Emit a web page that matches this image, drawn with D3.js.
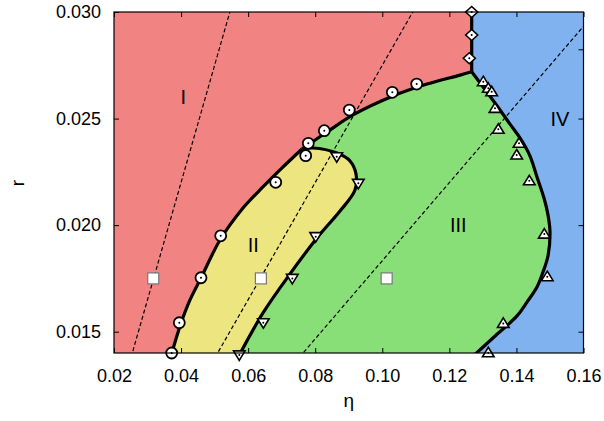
<!DOCTYPE html>
<html>
<head>
<meta charset="utf-8">
<script src="https://cdn.jsdelivr.net/npm/d3@7"></script>
<style>
  body { margin: 0; background: #fff; }
  svg { display: block; }
  text { font-family: "Liberation Sans", Arial, Helvetica, sans-serif; fill: #000; }
</style>
</head>
<body>
<svg id="chart" width="604" height="421"></svg>
<script>
// ---- axis ticks ----
const xTicks = [0.02, 0.04, 0.06, 0.08, 0.10, 0.12, 0.14, 0.16];
const yTicks = [0.015, 0.020, 0.025, 0.030];
const yTicksRight = [0.015, 0.020, 0.025, 0.02825];

// ---- phase boundaries (eta, r) ----
// I / II boundary, from the bottom edge up to the triple point
const boundaryI_II = [
  [0.0369, 0.0138], [0.0397, 0.01527], [0.04266, 0.01649], [0.04594, 0.01752],
  [0.05161, 0.01930], [0.05847, 0.02080], [0.06354, 0.02165], [0.0695, 0.02259],
  [0.07606, 0.02357]
];
// I / III boundary, from the triple point to the meeting with region IV
const boundaryI_III = [
  [0.07606, 0.02357], [0.08351, 0.02437], [0.09127, 0.02517], [0.10319, 0.02606],
  [0.11333, 0.02662], [0.12317, 0.02704], [0.12666, 0.02720]
];
// II / III boundary, from the triple point back down to the bottom edge
const boundaryII_III = [
  [0.07606, 0.02357], [0.07934, 0.02362], [0.0865, 0.02338], [0.09037, 0.02301],
  [0.09216, 0.02240], [0.09186, 0.02165], [0.08739, 0.02066], [0.08053, 0.01940],
  [0.07248, 0.01771], [0.06443, 0.01588], [0.0570, 0.0138]
];
// III / IV boundary
const boundaryIII_IV = [
  [0.12666, 0.02720], [0.13361, 0.02573], [0.13808, 0.02474], [0.14106, 0.02409],
  [0.14405, 0.02324], [0.14613, 0.02226], [0.14822, 0.02127], [0.14941, 0.02048],
  [0.15001, 0.01968], [0.14941, 0.01855], [0.14792, 0.01780], [0.14613, 0.01710],
  [0.14315, 0.01639], [0.14017, 0.01574], [0.13331, 0.01475], [0.1267, 0.0138]
];
// I / IV boundary (vertical)
const boundaryI_IV = [[0.12666, 0.02720], [0.12666, 0.0305]];

// ---- simulation points ----
const circlePts = [
  [0.0372, 0.0140], [0.03947, 0.01542], [0.04594, 0.01753], [0.05182, 0.01950],
  [0.06822, 0.02201], [0.07716, 0.02326], [0.07794, 0.02384], [0.08271, 0.02443],
  [0.09016, 0.02540], [0.10299, 0.02623], [0.11026, 0.02662]
];
const diamondPts = [[0.12666, 0.0300], [0.12666, 0.02892], [0.12595, 0.02783]];
const upTrianglePts = [
  [0.13012, 0.02673], [0.13161, 0.02642], [0.13262, 0.02626], [0.13361, 0.02548],
  [0.13459, 0.02450], [0.14077, 0.02384], [0.14008, 0.02329], [0.14384, 0.02208],
  [0.14831, 0.01958], [0.14920, 0.01758], [0.13608, 0.01539], [0.13161, 0.01401]
];
const downTrianglePts = [
  [0.08641, 0.02321], [0.09285, 0.02196], [0.08014, 0.01946], [0.07317, 0.01750],
  [0.06452, 0.01542], [0.05736, 0.01391]
];
const squarePts = [[0.0317, 0.0175], [0.0638, 0.0175], [0.1013, 0.0175]];

// ---- constant-ratio guide lines r = k * eta ----
const guideSlopes = [0.55, 0.275, 0.1833];

// ---- region names ----
const regionNames = ["I", "II", "III", "IV"];
const regionAnchors = [[0.04066, 0.02603], [0.06154, 0.01907], [0.12267, 0.02001], [0.1530, 0.02501]];

const regionColors = { I: "#F18383", II: "#EDE57F", III: "#89DF77", IV: "#7FB2EE" };

// ---------------------------------------------------------------
const svg = d3.select("#chart");
const plotL = 114, plotR = 583.5, plotT = 12, plotB = 353;
const x = d3.scaleLinear().domain([0.02, 0.16]).range([plotL, plotR]);
const y = d3.scaleLinear().domain([0.014, 0.030]).range([plotB, plotT]);
const smooth = d3.curveCatmullRom.alpha(0.5);

svg.append("defs").append("clipPath").attr("id", "plotClip")
  .append("rect").attr("x", plotL).attr("y", plotT)
  .attr("width", plotR - plotL).attr("height", plotB - plotT);

// joins several polylines/curves into one closed outline
function outline(parts) {
  const p = d3.path();
  let started = false;
  const ctx = {
    moveTo(a, b) { if (started) p.lineTo(a, b); else { p.moveTo(a, b); started = true; } },
    lineTo(a, b) { p.lineTo(a, b); },
    bezierCurveTo(a, b, c, d, e, f) { p.bezierCurveTo(a, b, c, d, e, f); },
    closePath() {}
  };
  for (const [pts, curved] of parts) {
    d3.line().x(d => x(d[0])).y(d => y(d[1]))
      .curve(curved ? smooth : d3.curveLinear).context(ctx)(pts);
  }
  p.closePath();
  return p.toString();
}
const rev = a => a.slice().reverse();

const plot = svg.append("g").attr("clip-path", "url(#plotClip)");

// region fills
plot.append("rect").attr("x", plotL).attr("y", plotT)
  .attr("width", plotR - plotL).attr("height", plotB - plotT)
  .attr("fill", regionColors.I);
plot.append("path").attr("fill", regionColors.IV)
  .attr("d", outline([[[[0.12666, 0.0305], [0.17, 0.0305], [0.17, 0.013]], false], [rev(boundaryIII_IV), true]]));
plot.append("path").attr("fill", regionColors.III)
  .attr("d", outline([[boundaryI_III, true], [boundaryIII_IV, true], [rev(boundaryII_III), true]]));
plot.append("path").attr("fill", regionColors.II)
  .attr("d", outline([[boundaryI_II, true], [boundaryII_III, true]]));

// guide lines
plot.selectAll("line.guide").data(guideSlopes).join("line")
  .attr("class", "guide")
  .attr("x1", k => x(0.0138 / k)).attr("y1", y(0.0138))
  .attr("x2", x(0.17)).attr("y2", k => y(0.17 * k))
  .attr("stroke", "#000").attr("stroke-width", 1.2)
  .attr("stroke-dasharray", "4,2.5");

// phase boundaries
const lineGen = d3.line().x(d => x(d[0])).y(d => y(d[1])).curve(smooth);
[boundaryI_II, boundaryI_III, boundaryII_III, boundaryIII_IV, boundaryI_IV].forEach(b => {
  plot.append("path").attr("d", lineGen(b))
    .attr("fill", "none").attr("stroke", "#000")
    .attr("stroke-width", 3.2).attr("stroke-linejoin", "round");
});

// region labels
svg.selectAll("text.region").data(regionNames).join("text")
  .attr("class", "region")
  .attr("x", (d, i) => x(regionAnchors[i][0]))
  .attr("y", (d, i) => y(regionAnchors[i][1]))
  .attr("text-anchor", "middle").attr("dy", "0.36em")
  .attr("font-size", 20).text(d => d);

// markers
const marks = svg.append("g");
function dotted(sel) {
  sel.append("circle").attr("r", 1).attr("fill", "#000");
}
marks.selectAll("g.sq").data(squarePts).join("g").attr("class", "sq")
  .attr("transform", d => `translate(${x(d[0])},${y(d[1])})`)
  .append("rect").attr("x", -5.5).attr("y", -5.5).attr("width", 11).attr("height", 11)
  .attr("fill", "#fff").attr("stroke", "#777").attr("stroke-width", 1.2);

const circ = marks.selectAll("g.ci").data(circlePts).join("g").attr("class", "ci")
  .attr("transform", d => `translate(${x(d[0])},${y(d[1])})`);
circ.append("circle").attr("r", 5.5).attr("fill", "#fff").attr("stroke", "#000").attr("stroke-width", 1.8);
dotted(circ);

const dia = marks.selectAll("g.di").data(diamondPts).join("g").attr("class", "di")
  .attr("transform", d => `translate(${x(d[0])},${y(d[1])})`);
dia.append("path").attr("d", "M0,-5.5L6,0L0,5.5L-6,0Z")
  .attr("fill", "#fff").attr("stroke", "#000").attr("stroke-width", 1.6);
dotted(dia);

const up = marks.selectAll("g.up").data(upTrianglePts).join("g").attr("class", "up")
  .attr("transform", d => `translate(${x(d[0])},${y(d[1])})`);
up.append("path").attr("d", "M0,-5.5L5.8,4L-5.8,4Z")
  .attr("fill", "#fff").attr("stroke", "#000").attr("stroke-width", 1.6);
dotted(up);

const dn = marks.selectAll("g.dn").data(downTrianglePts).join("g").attr("class", "dn")
  .attr("transform", d => `translate(${x(d[0])},${y(d[1])})`);
dn.append("path").attr("d", "M0,5.5L5.8,-4L-5.8,-4Z")
  .attr("fill", "#fff").attr("stroke", "#000").attr("stroke-width", 1.6);
dotted(dn);

// axes (inward ticks on all sides)
const axB = svg.append("g").attr("transform", `translate(0,${plotB})`)
  .call(d3.axisBottom(x).tickValues(xTicks).tickFormat(d3.format(".2f"))
    .tickSizeInner(-5).tickSizeOuter(0).tickPadding(16.5));
const axT = svg.append("g").attr("transform", `translate(0,${plotT})`)
  .call(d3.axisTop(x).tickValues(xTicks).tickFormat("").tickSizeInner(-5).tickSizeOuter(0));
const axL = svg.append("g").attr("transform", `translate(${plotL},0)`)
  .call(d3.axisLeft(y).tickValues(yTicks).tickFormat(d3.format(".3f"))
    .tickSizeInner(-5).tickSizeOuter(0).tickPadding(13));
const axR = svg.append("g").attr("transform", `translate(${plotR},0)`)
  .call(d3.axisRight(y).tickValues(yTicksRight).tickFormat("").tickSizeInner(-5).tickSizeOuter(0));
[axB, axT, axL, axR].forEach(a => {
  a.select(".domain").remove();
  a.selectAll(".tick line").attr("stroke", "#000").attr("stroke-width", 1);
  a.selectAll(".tick text").attr("font-size", 18)
    .attr("font-family", "'Liberation Sans', Arial, sans-serif").attr("fill", "#000");
});

// frame
svg.append("rect").attr("x", plotL).attr("y", plotT)
  .attr("width", plotR - plotL).attr("height", plotB - plotT)
  .attr("fill", "none").attr("stroke", "#000").attr("stroke-width", 1.2);

// axis titles
svg.append("text").attr("x", (plotL + plotR) / 2).attr("y", 407)
  .attr("text-anchor", "middle").attr("font-size", 19).text("η");
svg.append("text").attr("transform", "translate(24,183) rotate(-90)")
  .attr("text-anchor", "middle").attr("font-size", 19).text("r");
</script>
</body>
</html>
